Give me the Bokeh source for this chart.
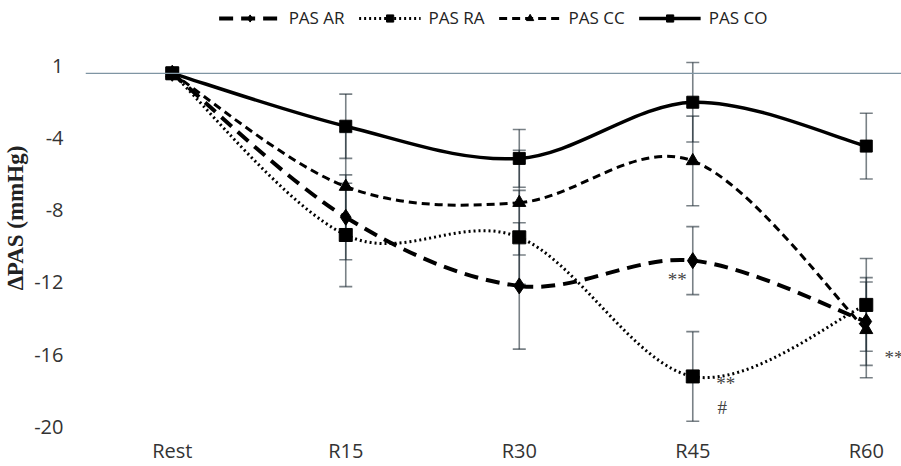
import math
from bokeh.plotting import figure
from bokeh.models import (Range1d, FixedTicker, Span, Whisker, ColumnDataSource,
                          Legend, LegendItem, TeeHead)
from bokeh.core.properties import value
from bokeh.embed import file_html
from bokeh.resources import INLINE

# ---- data -------------------------------------------------------------
categories = ["Rest", "R15", "R30", "R45", "R60"]
pas_ar = [0, -7.97, -11.77, -10.37, -13.74]
pas_ra = [0, -8.95, -9.08, -16.78, -12.82]
pas_cc = [0, -6.27, -7.16, -4.85, -14.20]
pas_co = [0, -2.93, -4.71, -1.60, -4.03]
sd_ar = [0, 2.35, 3.50, 1.88, 2.43]
sd_ra = [0, 2.86, 2.60, 2.48, 2.57]
sd_cc = [0, 3.00, 2.90, 2.48, 2.65]
sd_co = [0, 1.78, 1.60, 2.20, 1.82]
series_names = ["PAS AR", "PAS RA", "PAS CC", "PAS CO"]
y_ticks = [-20, -16, -12, -8, -4, 0]
y_tick_labels = ["-20", "-16", "-12", "-8", "-4", "1"]
note_text = ["**", "**", "#", "**"]
note_x = [2.91, 3.19, 3.17, 4.16]
note_y = [-11.4, -17.15, -18.5, -15.75]

xs = list(range(len(categories)))
label_shift = 0.42  # the original's tick labels sit slightly above their tick values

p = figure(width=901, height=466, output_backend="svg", toolbar_location=None,
           x_range=Range1d(-0.5, 4.203), y_range=Range1d(-20.05, 4.03),
           min_border_left=85, min_border_right=0, min_border_top=0, min_border_bottom=30)
p.outline_line_color = None
p.xgrid.visible = False
p.ygrid.visible = False
p.background_fill_color = "white"

# axes
p.xaxis.ticker = FixedTicker(ticks=xs)
p.xaxis.major_label_overrides = {i: c for i, c in zip(xs, categories)}
p.xaxis.axis_line_color = None
p.xaxis.major_tick_line_color = None
p.xaxis.minor_tick_line_color = None
p.xaxis.major_tick_out = 0
p.xaxis.major_tick_in = 0
p.xaxis.major_label_standoff = 1
p.xaxis.major_label_text_font = "Open Sans"
p.xaxis.major_label_text_font_size = "20px"
p.xaxis.major_label_text_color = "#333333"

shifted = [t + label_shift for t in y_ticks]
p.yaxis.ticker = FixedTicker(ticks=shifted)
p.yaxis.major_label_overrides = {t: l for t, l in zip(shifted, y_tick_labels)}
p.yaxis.axis_line_color = None
p.yaxis.major_tick_line_color = None
p.yaxis.minor_tick_line_color = None
p.yaxis.major_tick_out = 0
p.yaxis.major_tick_in = 0
p.yaxis.major_label_standoff = 22
p.yaxis.major_label_text_font = "Open Sans"
p.yaxis.major_label_text_font_size = "20px"
p.yaxis.major_label_text_color = "#333333"
p.yaxis.axis_label = "\u2206PAS (mmHg)"
p.yaxis.axis_label_text_font = "Liberation Serif"
p.yaxis.axis_label_text_font_style = "bold"
p.yaxis.axis_label_text_font_size = "23px"
p.yaxis.axis_label_text_color = "#222222"
p.yaxis.axis_label_standoff = 3

p.add_layout(Span(location=0, dimension="width", line_color="#7f95a3", line_width=1.3))

styles = [
    dict(dash="14 8", width=4, marker="diamond", size=16),
    dict(dash="2 3", width=3, marker="square", size=13),
    dict(dash="8 5", width=3, marker="triangle", size=13),
    dict(dash="solid", width=3.5, marker="square", size=12),
]
all_vals = [pas_ar, pas_ra, pas_cc, pas_co]
all_sd = [sd_ar, sd_ra, sd_cc, sd_co]


def smooth(xv, yv):
    n = len(xv)
    out = dict(x0=[], y0=[], x1=[], y1=[], cx0=[], cy0=[], cx1=[], cy1=[])
    for i in range(n - 1):
        a = i - 1 if i > 0 else i
        d = i + 2 if i + 2 < n else i + 1
        out["x0"].append(xv[i]); out["y0"].append(yv[i])
        out["x1"].append(xv[i + 1]); out["y1"].append(yv[i + 1])
        out["cx0"].append(xv[i] + (xv[i + 1] - xv[a]) / 6)
        out["cy0"].append(yv[i] + (yv[i + 1] - yv[a]) / 6)
        out["cx1"].append(xv[i + 1] - (xv[d] - xv[i]) / 6)
        out["cy1"].append(yv[i + 1] - (yv[d] - yv[i]) / 6)
    return out


# error bars
for vals, sd in zip(all_vals, all_sd):
    src = ColumnDataSource(dict(x=xs[1:],
                                upper=[v + s for v, s in zip(vals[1:], sd[1:])],
                                lower=[v - s for v, s in zip(vals[1:], sd[1:])]))
    w = Whisker(base="x", upper="upper", lower="lower", source=src,
                line_color="#1f2d35", line_alpha=0.6, line_width=1.6,
                upper_head=TeeHead(size=13, line_color="#1f2d35", line_alpha=0.6, line_width=1.6),
                lower_head=TeeHead(size=13, line_color="#1f2d35", line_alpha=0.6, line_width=1.6))
    p.add_layout(w)

items = []
for name, vals, st in zip(series_names, all_vals, styles):
    bz = ColumnDataSource(smooth(xs, vals))
    p.bezier(x0="x0", y0="y0", x1="x1", y1="y1", cx0="cx0", cy0="cy0", cx1="cx1", cy1="cy1",
             source=bz, line_color="black", line_width=st["width"], line_dash=st["dash"])
    leg_line = p.line(x=[math.nan, math.nan], y=[math.nan, math.nan], line_color="black",
                      line_width=st["width"], line_dash=st["dash"])
    sc = p.scatter(x=xs, y=vals, marker=st["marker"], size=st["size"], color="black")
    items.append(LegendItem(label=name, renderers=[leg_line, sc]))

p.text(x=note_x, y=note_y, text=note_text, text_font=value("Liberation Serif"),
       text_font_size="19px", text_color="#444444", text_align="center", text_baseline="middle")

legend = Legend(items=items, orientation="horizontal", location="top_center",
                glyph_width=62, glyph_height=18, label_height=18, label_standoff=8, spacing=14,
                padding=2, margin=6, border_line_color=None, background_fill_alpha=0,
                label_text_font="Open Sans", label_text_font_size="17px", label_text_color="#222222")
p.add_layout(legend)

open("out.html", "w").write(file_html(p, INLINE))
